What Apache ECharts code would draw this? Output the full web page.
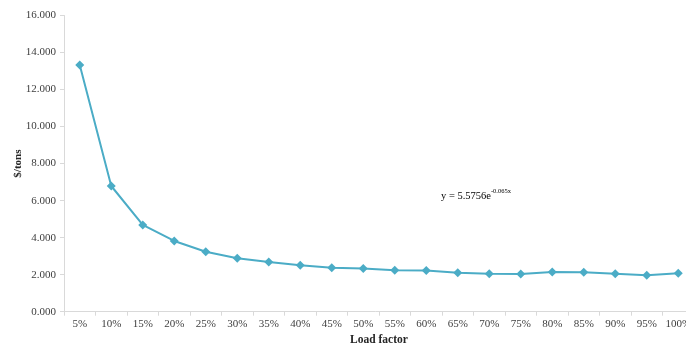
<!DOCTYPE html>
<html><head><meta charset="utf-8">
<script src="https://cdn.jsdelivr.net/npm/echarts@6/dist/echarts.min.js"></script>
<style>html,body{margin:0;padding:0;background:#fff}#c{width:686px;height:350px}</style>
</head><body><div id="c"></div>
<script>
const categories = ['5%','10%','15%','20%','25%','30%','35%','40%','45%','50%','55%','60%','65%','70%','75%','80%','85%','90%','95%','100%'];
const costValues = [13.33,6.79,4.69,3.82,3.24,2.89,2.69,2.51,2.38,2.33,2.24,2.22,2.11,2.05,2.04,2.15,2.13,2.05,1.97,2.08];
const yTicks = [0,2,4,6,8,10,12,14,16];
const trendText = 'y = 5.5756e';
const trendExp = '-0.065x';

const chart = echarts.init(document.getElementById('c'));
const font = 'Liberation Serif';
chart.setOption({
  animation: false,
  textStyle: {fontFamily: font},
  grid: {left: 64, top: 15.5, width: 630, height: 296.2, containLabel: false, outerBoundsMode: 'none'},
  xAxis: {
    type: 'category', data: categories, boundaryGap: true,
    name: 'Load factor', nameLocation: 'middle', nameGap: 22, nameMoveOverlap: false,
    nameTextStyle: {fontFamily: font, fontWeight: 'bold', fontSize: 11.5, color: '#262626'},
    axisLine: {lineStyle: {color: '#d9d9d9'}},
    axisTick: {show: true, length: 4, lineStyle: {color: '#d9d9d9'}},
    axisLabel: {fontFamily: font, fontSize: 11, color: '#404040', margin: 7, interval: 0, hideOverlap: false}
  },
  yAxis: {
    type: 'value', min: 0, max: 16, interval: 2,
    name: '$/tons', nameLocation: 'middle', nameGap: 40, nameRotate: 90, nameMoveOverlap: false,
    nameTextStyle: {fontFamily: font, fontWeight: 'bold', fontSize: 11, color: '#262626'},
    axisLine: {show: true, lineStyle: {color: '#d9d9d9'}},
    axisTick: {show: true, length: 4, lineStyle: {color: '#d9d9d9'}},
    splitLine: {show: false},
    axisLabel: {fontFamily: font, fontSize: 11, color: '#404040', margin: 8,
      formatter: v => yTicks.includes(v) ? v.toFixed(3) : ''}
  },
  series: [{
    type: 'line', data: costValues,
    symbol: 'diamond', symbolSize: 9,
    lineStyle: {color: '#4bacc6', width: 2},
    itemStyle: {color: '#4bacc6'}
  }],
  graphic: [{
    type: 'text', left: 441, top: 188,
    style: {
      text: '{a|' + trendText + '}{b|' + trendExp + '}',
      rich: {
        a: {fontFamily: font, fontSize: 10.5, color: '#333333', verticalAlign: 'bottom', lineHeight: 14},
        b: {fontFamily: font, fontSize: 6.5, color: '#333333', verticalAlign: 'top', lineHeight: 14, padding: [0,0,6,0]}
      }
    }
  }]
});
</script></body></html>
